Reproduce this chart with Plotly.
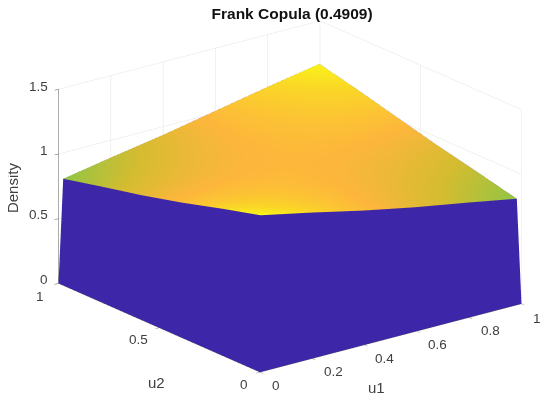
import plotly.graph_objects as go

u1 = [0.01, 0.2, 0.4, 0.6, 0.8, 0.99]
u2 = [0.01, 0.2, 0.4, 0.6, 0.8, 0.99]
# density, rows follow u2, columns follow u1
density = [
    [1.20, 1.12, 1.03, 0.95, 0.88, 0.81],
    [1.12, 1.08, 1.03, 0.98, 0.93, 0.88],
    [1.03, 1.03, 1.02, 1.00, 0.98, 0.95],
    [0.95, 0.98, 1.00, 1.02, 1.03, 1.03],
    [0.88, 0.93, 0.98, 1.03, 1.07, 1.11],
    [0.81, 0.88, 0.95, 1.03, 1.11, 1.18],
]
parula = [
    [0.0, "#3e26a8"], [0.125, "#4852f4"], [0.25, "#2e87f7"], [0.375, "#12b1d6"],
    [0.5, "#37c897"], [0.675, "#8fc645"], [0.76, "#d4bc30"], [0.84, "#fdb63c"],
    [0.93, "#fad727"], [1.0, "#f9fb15"],
]
x_ticks = [0, 0.2, 0.4, 0.6, 0.8, 1]
y_ticks = [0, 0.5, 1]
z_ticks = [0, 0.5, 1, 1.5]

GRID = "#e4e4e4"
AXIS = "#5a5a5a"
TEXT = "#404040"
FONT = "Liberation Sans"
FLAT = dict(ambient=1, diffuse=0, specular=0, fresnel=0, roughness=1)

# skirt: walk round the rim of the surface and drop each rim point to the floor
n = len(u1)
rim = ([(n - 1, j) for j in range(n - 1, -1, -1)] + [(i, 0) for i in range(n - 2, -1, -1)]
       + [(0, j) for j in range(1, n)] + [(i, n - 1) for i in range(1, n - 1)])
rim_x = [u1[j] for i, j in rim]
rim_y = [u2[i] for i, j in rim]
rim_z = [density[i][j] for i, j in rim]
# the floor outline sits a little outside the top edge
floor_x = [0 if v == u1[0] else 1 if v == u1[-1] else v for v in rim_x]
floor_y = [0 if v == u2[0] else 1 if v == u2[-1] else v for v in rim_y]

m = len(rim)
tri_i, tri_j, tri_k = [], [], []
for a in range(m):
    b = (a + 1) % m
    tri_i += [a, b]
    tri_j += [b, b + m]
    tri_k += [a + m, a + m]

fig = go.Figure()
fig.add_trace(go.Mesh3d(x=floor_x + rim_x, y=floor_y + rim_y, z=[0] * m + rim_z,
                        i=tri_i, j=tri_j, k=tri_k, color="#3e26a8",
                        hoverinfo="skip", lighting=FLAT))
fig.add_trace(go.Surface(x=u1, y=u2, z=density, colorscale=parula, cmin=0, cmax=1.2,
                         showscale=False, hoverinfo="skip", lighting=FLAT))


def axis(rng, ticks):
    return dict(title=dict(text=""), range=rng, tickvals=ticks, showticklabels=False,
                showbackground=False, showgrid=True, gridcolor=GRID, gridwidth=1,
                showline=True, linecolor=AXIS, linewidth=1, zeroline=False,
                ticks="outside", ticklen=5, tickcolor=AXIS, showspikes=False)


def label(x, y, z, text, dx, dy, size=13.5, color=TEXT, **kw):
    return dict(x=x, y=y, z=z, text=text, showarrow=False, xshift=dx, yshift=dy,
                font=dict(size=size, color=color, family=FONT), **kw)


notes = []
for t, dx, dy in zip(x_ticks, [16, 21, 20, 21, 21, 16], [-13, -13, -13, -13, -13, -14]):
    notes.append(label(t, 0, 0, str(t), dx, dy))
for t, dx, dy in zip(y_ticks, [-16, -21, -18], [-12, -11, -13]):
    notes.append(label(0, t, 0, str(t), dx, dy))
for t, dy in zip(z_ticks, [4, 4, 4, 3]):
    notes.append(label(0, 1, t, str(t), -8, dy, xanchor="right"))
notes.append(label(0.44, 0, 0, "u1", 2, -45, size=15))
notes.append(label(0, 0.52, 0, "u2", 1, -56, size=15))
notes.append(label(0, 1, 0.74, "Density", -45, 0, size=15, textangle=-90))

fig.update_layout(
    width=550, height=402, margin=dict(l=0, r=0, t=0, b=0), paper_bgcolor="white",
    title=dict(text="<b>Frank Copula (0.4909)</b>", x=0.5165, xanchor="center", y=0.987, yanchor="middle",
               font=dict(size=15.5, color="#111111", family=FONT)),
    scene=dict(
        domain=dict(x=[0.0395, 0.9855], y=[0.0612, 1]),
        xaxis=axis([0, 1], x_ticks),
        yaxis=axis([0, 1], y_ticks),
        zaxis=axis([0, 1.5], z_ticks),
        aspectmode="manual", aspectratio=dict(x=1.751, y=1.751, z=1.095),
        annotations=notes,
        camera=dict(projection=dict(type="orthographic"), center=dict(x=0, y=0, z=0),
                    eye=dict(x=-0.574 * 3, y=-0.745 * 3, z=0.3395 * 3), up=dict(x=0, y=0, z=1)),
    ),
)
fig.write_html("out.html")
